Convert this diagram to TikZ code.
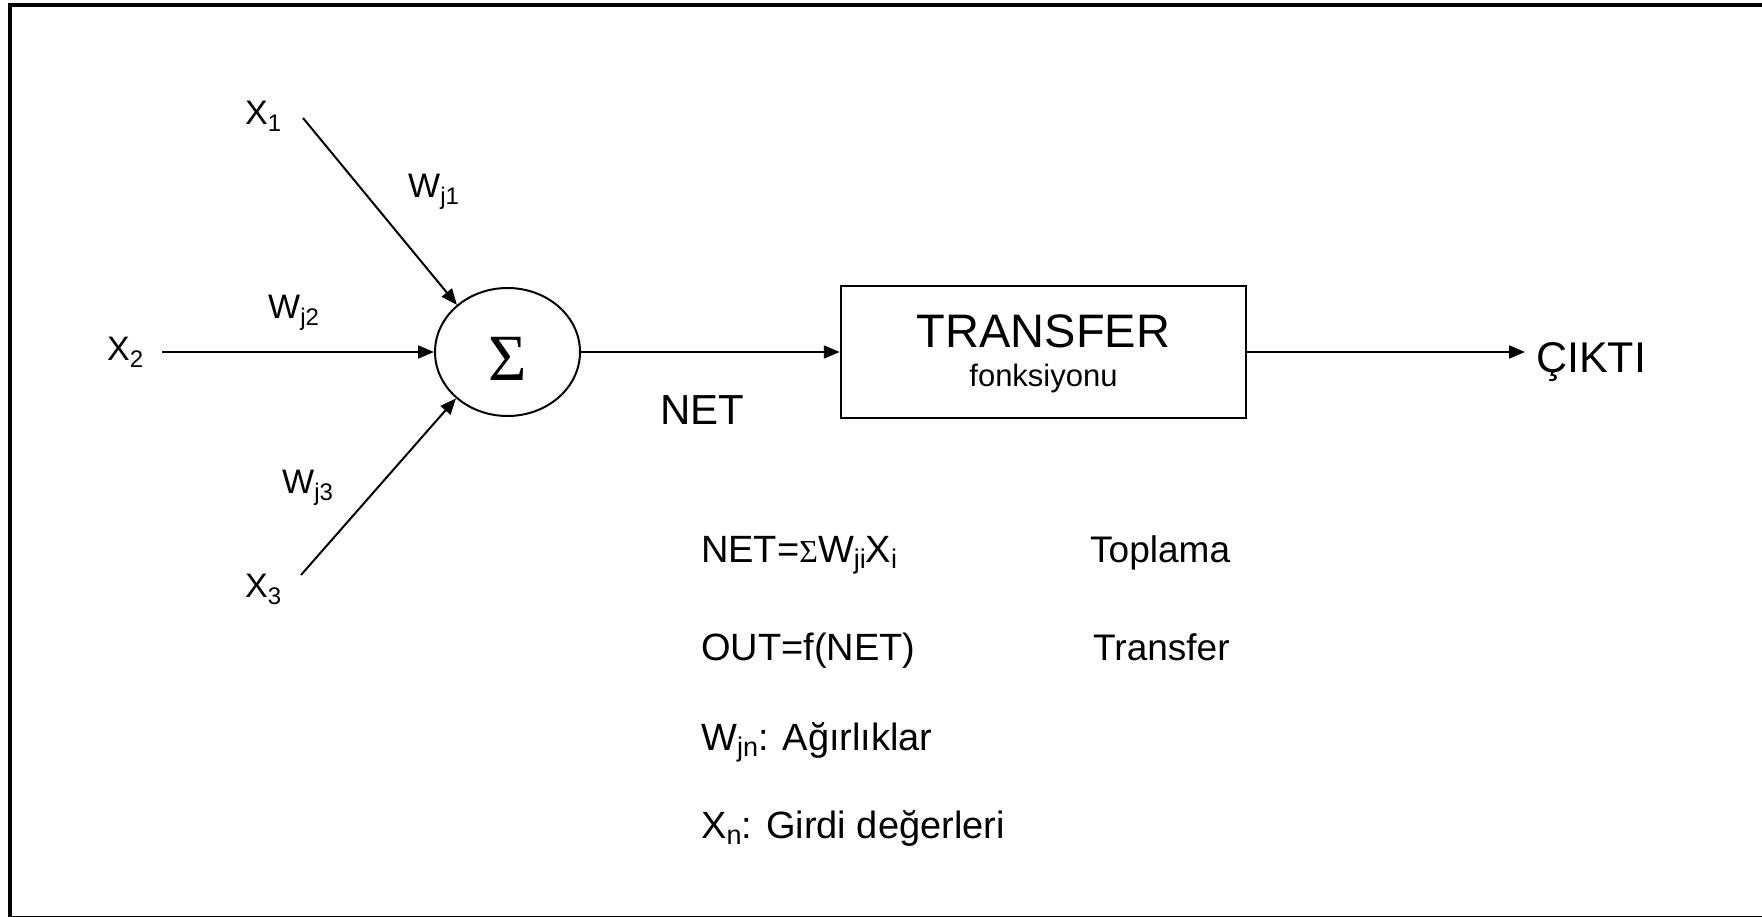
\documentclass[tikz,border=0pt]{standalone}
\usepackage{fontspec}
\setmainfont{Liberation Sans}
\newfontfamily\seriffont{Liberation Serif}
\usetikzlibrary{arrows.meta,shapes.geometric}
\newcommand\fs[1]{\fontsize{#1}{#1}\selectfont}
\newcommand\mysub[3]{\raisebox{-#2pt}{\fs{#1}#3}}
\begin{document}
\begin{tikzpicture}[x=1pt,y=-1pt,
  lbl/.style={inner sep=0pt, anchor=base west},
  ctr/.style={inner sep=0pt, anchor=base},
  arr/.style={line width=2pt, -{Triangle[length=16pt,width=13pt]}},
]
\useasboundingbox (0,0) rectangle (1762,917);
\clip (0,0) rectangle (1762,917);
\draw[line width=4pt] (10,5.5) rectangle (1764,917.5);

% inputs and weights
\node[lbl, font=\fs{34}] (X1) at (245,125) {X\mysub{24}{7}{1}};
\node[lbl, font=\fs{34}] (X2) at (107,360) {X\mysub{24}{7}{2}};
\node[lbl, font=\fs{34}] (X3) at (245,597) {X\mysub{24}{7}{3}};
\node[lbl, font=\fs{34}] (W1) at (408,198) {W\mysub{24}{7}{j1}};
\node[lbl, font=\fs{34}] (W2) at (268,319) {W\mysub{24}{7}{j2}};
\node[lbl, font=\fs{34}] (W3) at (282,493) {W\mysub{24}{7}{j3}};

% summation
\node[ellipse, draw, line width=2pt, minimum width=145pt, minimum height=128pt, inner sep=0pt] (S) at (507.5,352)
  {\raisebox{-29pt}[0pt][0pt]{\seriffont\fs{66}Σ}};

% transfer box
\node[draw, line width=2.5pt, minimum width=405pt, minimum height=132pt, inner sep=0pt] (B) at (1043.5,352) {};
\node[ctr, font=\fs{47}] (Bt) at (1043.5,348) {TRANSFER};
\node[ctr, font=\fs{31}] (Bf) at (1043.5,386) {fonksiyonu};

\node[lbl, font=\fs{42}] (NET) at (660,424) {NET};
\node[lbl, font=\fs{43}] (C) at (1536,373) {ÇIKTI};

% connectors
\coordinate (x1s) at (303,118);
\coordinate (x2s) at (162,352);
\coordinate (x3s) at (301,575);
\coordinate (cout) at (1525,352);
\draw[arr] (x1s) -- (S.137);
\draw[arr] (x2s) -- (S.west);
\draw[arr] (x3s) -- (S.222);
\draw[arr] (S.east) -- (B.west);
\draw[arr] (B.east) -- (cout);

% legend
\node[lbl, font=\fs{38}] (eq1) at (701,562) {NET={\seriffont\fs{32}Σ}W\mysub{27}{6}{ji}X\mysub{27}{6}{i}};
\node[lbl, font=\fs{38}] (eq2) at (701,660) {OUT=f(NET)};
\node[lbl, font=\fs{38}] (eq3) at (701,750) {W\mysub{27}{6}{jn}: Ağırlıklar};
\node[lbl, font=\fs{38}] (eq4) at (701,838) {X\mysub{27}{6}{n}: Girdi değerleri};
\node[lbl, font=\fs{37}] (t1) at (1090,562) {Toplama};
\node[lbl, font=\fs{37}] (t2) at (1093,660) {Transfer};
\end{tikzpicture}
\end{document}
